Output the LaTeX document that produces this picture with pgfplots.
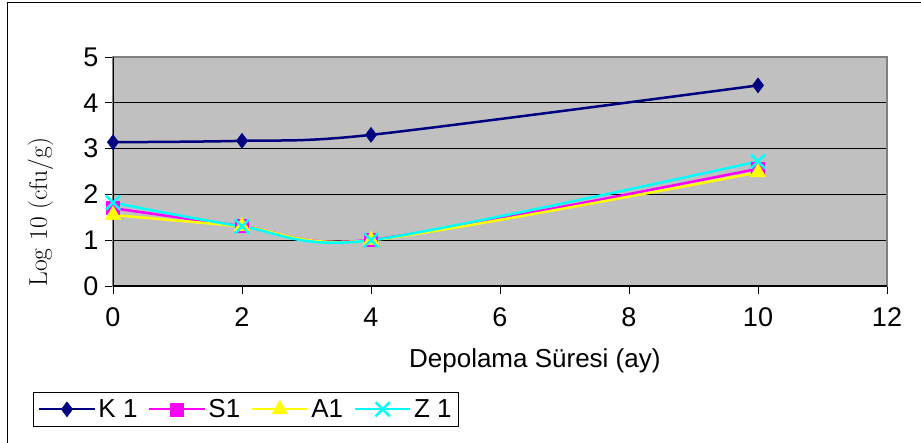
\documentclass[border=0pt]{standalone}
\usepackage{fontspec}
\newfontfamily\arial{Liberation Sans}
\usepackage{pgfplots}
\pgfplotsset{compat=1.18}
\definecolor{bgg}{HTML}{C0C0C0}
\definecolor{navyk}{HTML}{000080}
\definecolor{magk}{HTML}{FF00FF}
\definecolor{yelk}{HTML}{FFFF00}
\definecolor{cyak}{HTML}{00FFFF}
\begin{document}
\begin{tikzpicture}[x=1pt,y=1pt]
\useasboundingbox (0,0) rectangle (921,442);
\draw[line width=1pt] (7,-5) -- (7,439) -- (926,439);
\begin{axis}[
  at={(113pt,156pt)}, anchor=south west,
  width=774pt, height=229pt, scale only axis,
  xmin=0, xmax=12, ymin=0, ymax=5,
  xtick={0,2,4,6,8,10,12}, ytick={0,1,2,3,4,5},
  xtick pos=bottom, ytick pos=left,
  tick align=outside, major tick length=8pt,
  tick style={black, line width=1pt},
  axis line style={draw=black!50, line width=1.5pt},
  axis background/.style={fill=bgg},
  ymajorgrids, grid style={black, line width=0.9pt},
  /pgf/number format/assume math mode=true,
  tick label style={font=\arial\fontsize{27}{27}\selectfont},
  xticklabel style={yshift=-10pt},
  yticklabel style={xshift=-3pt},
  xlabel={Depolama Süresi (ay)},
  xlabel style={font=\arial\fontsize{26}{26}\selectfont, at={(axis description cs:0.545,-0.358)}, anchor=base},
  ylabel={Log 10 (cfu/g)},
  ylabel style={font=\fontsize{25.5}{25.5}\selectfont, at={(axis description cs:-0.0853,0.323)}, anchor=base, rotate=0},
  legend columns=4,
  legend style={at={(axis description cs:-0.1034,-0.4629)}, anchor=north west,
    font=\arial\fontsize{26}{26}\selectfont, draw=black, line width=1pt,
    inner xsep=5pt, inner ysep=5pt, nodes={inner sep=2pt},
    /tikz/every even column/.append style={column sep=9pt},
    /tikz/every odd column/.append style={column sep=1pt}},
  legend image code/.code={
    \draw[mark repeat=2,mark phase=2, line width=2pt] plot coordinates {(0pt,0pt) (27.5pt,0pt) (55pt,0pt)};
  },
  every axis plot/.append style={line width=2.5pt, smooth},
]
\draw[black, line width=1.2pt] (rel axis cs:0,1) -- (rel axis cs:0,0) -- (rel axis cs:1,0);
\addplot[navyk, mark=diamond*, mark size=7.5pt, mark options={fill=navyk, draw=navyk, line width=0.5pt}]
  coordinates {(0,3.14) (2,3.17) (4,3.30) (10,4.38)};
\addlegendentry{K 1}
\addplot[magk, mark=square*, mark size=6.5pt, mark options={fill=magk, draw=magk, line width=0.5pt}]
  coordinates {(0,1.70) (2,1.31) (4,1.01) (10,2.56)};
\addlegendentry{S1}
\addplot[yelk, mark=triangle*, mark size=9pt, mark options={fill=yelk, draw=yelk, line width=0.5pt}]
  coordinates {(0,1.55) (2,1.30) (4,1.00) (10,2.48)};
\addlegendentry{A1}
\addplot[cyak, mark=x, mark size=10pt, mark options={draw=cyak, line width=2.5pt}]
  coordinates {(0,1.82) (2,1.30) (4,1.00) (10,2.72)};
\addlegendentry{Z 1}
\end{axis}
\end{tikzpicture}
\end{document}
